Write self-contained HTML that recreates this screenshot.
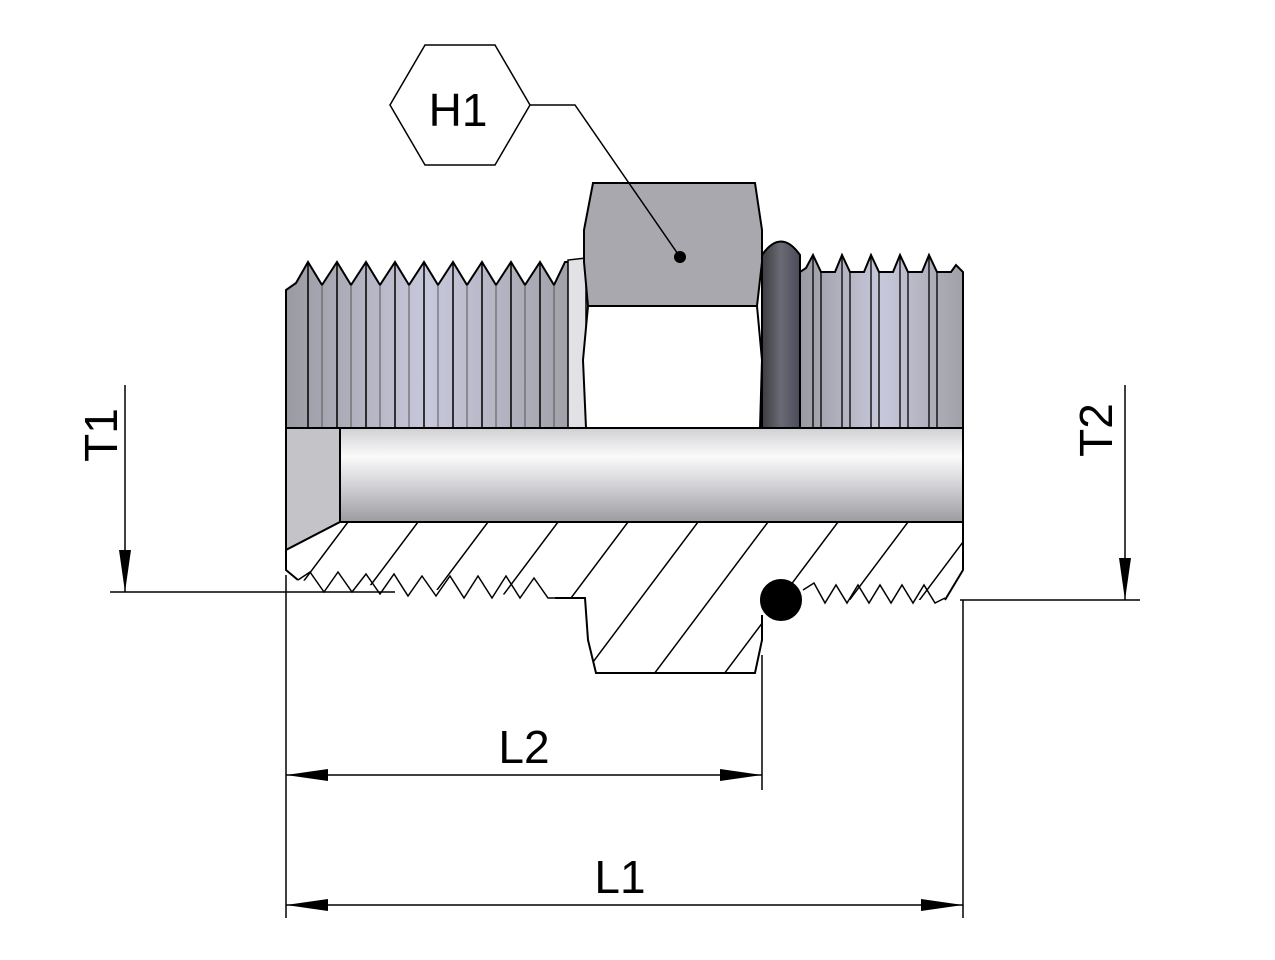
<!DOCTYPE html>
<html><head><meta charset="utf-8"><style>html,body{margin:0;padding:0;background:#fff}svg{display:block}</style></head><body>
<svg width="1275" height="960" viewBox="0 0 1275 960" xmlns="http://www.w3.org/2000/svg" font-family="Liberation Sans, sans-serif">
<defs>
<linearGradient id="thr" x1="0" y1="0" x2="1" y2="0">
<stop offset="0" stop-color="#9a9aa2"/><stop offset="0.5" stop-color="#c8c8dc"/><stop offset="1" stop-color="#a0a0a8"/>
</linearGradient>
<linearGradient id="bore" x1="0" y1="0" x2="0" y2="1">
<stop offset="0" stop-color="#d0d0d4"/><stop offset="0.3" stop-color="#fafafa"/><stop offset="0.6" stop-color="#d4d4d8"/><stop offset="1" stop-color="#9c9ca0"/>
</linearGradient>
<linearGradient id="oring" x1="0" y1="0" x2="1" y2="0">
<stop offset="0" stop-color="#3c3c40"/><stop offset="0.5" stop-color="#6a6a74"/><stop offset="1" stop-color="#4a4a5a"/>
</linearGradient>
<clipPath id="sec"><polygon points="286,550 340,522 963,522 963,570 945,600 803,600 800,592 762,605 762,640 755,673 596,673 588,640 585,598 555,598 295,580 286,570"/></clipPath>
</defs>
<g stroke="#000" stroke-width="2">
<!-- left thread -->
<path d="M286,428 L286,290 L296,283 L308,262 L322,285 L337,262 L351,285 L366,262 L380,285 L395,262 L409,285 L424,262 L438,285 L453,262 L467,285 L482,262 L496,285 L511,262 L525,285 L540,262 L554,285 L565,262 L570,262 L570,428 Z" fill="url(#thr)"/>
<g stroke-width="1.5" fill="none">
<path d="M308,262V428M337,262V428M366,262V428M395,262V428M424,262V428M453,262V428M482,262V428M511,262V428M540,262V428"/>
<path d="M322,285V428M351,285V428M380,285V428M409,285V428M438,285V428M467,285V428M496,285V428M525,285V428M554,285V428" stroke="#555" stroke-width="1"/>
</g>
<path d="M568,428 L568,260 L586,258 L586,428 Z" fill="#e2e2e6" stroke-width="1.5"/>
<!-- white under hex -->
<path d="M588,306 L583,360 L586,428 L760,428 L762,360 L757,306 Z" fill="#fff"/>
<!-- hex -->
<path d="M593,183 L755,183 L762,230 L762,262 L757,306 L588,306 L584,262 L584,230 Z" fill="#a8a8ae"/>
<!-- oring top -->
<path d="M762,428 L762,255 Q781,228 800,255 L800,428 Z" fill="url(#oring)"/>
<!-- right thread -->
<path d="M800,428 L800,272 L806,268 L813,255 L821,272 L835,272 L842,255 L850,272 L864,272 L871,255 L879,272 L893,272 L900,255 L908,272 L922,272 L929,255 L937,272 L951,272 L956,265 L963,272 L963,428 Z" fill="url(#thr)"/>
<path d="M813,255V428M842,255V428M871,255V428M900,255V428M929,255V428M821,272V428M850,272V428M879,272V428M908,272V428M937,272V428" stroke-width="1.3" fill="none"/>
<!-- bore -->
<path d="M286,428 L286,550 L340,522 L340,428 Z" fill="#c4c4c8"/>
<rect x="340" y="428" width="623" height="94" fill="url(#bore)"/>
<!-- section -->
<polygon points="286,550 340,522 963,522 963,570 945,600 803,600 800,592 762,605 762,640 755,673 596,673 588,640 585,598 555,598 295,580 286,570" fill="#fff" stroke="none"/>
<g clip-path="url(#sec)" stroke-width="1.5">
<path d="M348,522 L198,722 M418,522 L268,722 M488,522 L338,722 M558,522 L408,722 M628,522 L478,722 M698,522 L548,722 M768,522 L618,722 M838,522 L688,722 M908,522 L758,722 M978,522 L828,722 M1048,522 L898,722"/>
</g>
<path d="M286,550 L340,522 L963,522 L963,570 L945,600 M762,615 L762,640 L755,673 L596,673 L588,640 L585,598 L555,598 M286,550 L286,570 L298,580" fill="none"/>
<polyline points="298,580 310,572 324,592 338,572 352,592 366,574 380,594 394,574 408,596 422,576 436,596 450,576 464,598 478,576 492,598 506,576 520,598 534,578 548,598 555,598" fill="none" stroke-width="1.5"/>
<polyline points="803,590 814,583 825,603 836,585 847,603 858,585 869,603 880,585 891,603 902,585 913,603 924,585 935,603 945,598" fill="none" stroke-width="1.5"/>
<circle cx="781" cy="600" r="20" fill="#000"/>
<!-- dims -->
<g stroke-width="1.5" fill="none">
<path d="M125,385 V592 M110,592 H395 M1125,385 V600 M960,600 H1140 M286,575 V918 M963,600 V918 M762,655 V790 M286,775 H762 M286,905 H963"/>
</g>
<g fill="#000" stroke="none">
<polygon points="125,592 119,550 131,550"/>
<polygon points="1125,600 1119,558 1131,558"/>
<polygon points="286,775 328,769 328,781"/>
<polygon points="762,775 720,769 720,781"/>
<polygon points="286,905 328,899 328,911"/>
<polygon points="963,905 921,899 921,911"/>
<circle cx="680" cy="257" r="6"/>
</g>
<polygon points="390,105 425,45 495,45 530,105 495,165 425,165" fill="#fff" stroke-width="1.5"/>
<path d="M530,105 H575 L680,257" fill="none" stroke-width="1.5"/>
</g>
<g font-size="46" fill="#000">
<text x="458" y="126" text-anchor="middle">H1</text>
<text x="524" y="763" text-anchor="middle">L2</text>
<text x="620" y="893" text-anchor="middle">L1</text>
<text transform="translate(117,435) rotate(-90)" text-anchor="middle">T1</text>
<text transform="translate(1112,430) rotate(-90)" text-anchor="middle">T2</text>
</g>
</svg>
</body></html>
